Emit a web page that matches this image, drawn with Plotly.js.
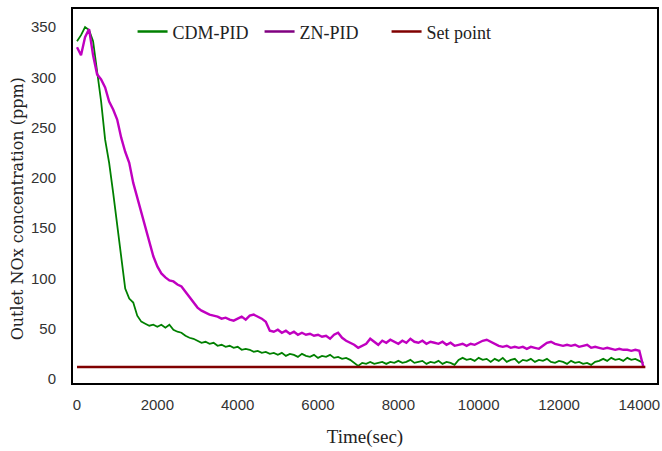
<!DOCTYPE html>
<html>
<head>
<meta charset="utf-8">
<script src="https://cdn.plot.ly/plotly-3.0.1.min.js"></script>
<style>html,body{margin:0;padding:0;background:#fff;}#chart{width:662px;height:451px;}</style>
</head>
<body>
<div id="chart"></div>
<script>
// Time grid (sec), sampled every 100 s
const timeStart = 0, timeStep = 100, timeCount = 142;
const time = [];
for (let i = 0; i < timeCount; i++) time.push(timeStart + i * timeStep);

// CDM-PID outlet NOx (ppm)
const cdmPid = [
  336,342,350,347,336,305,276,238,215,185,
  153,118,90,80,76,63,57,55,53,54,
  52,54,51,54,49,47,46,43,41,40,
  38,36,37,35,36,33,34,32,33,31,
  32,29,30,29,27,28,26,27,25,26,
  24,26,23,25,24,22,25,23,22,24,
  21,23,22,24,21,22,20,21,19,16,
  13,16,15,17,15,16,17,15,17,16,
  18,16,17,19,16,17,18,15,17,16,
  18,15,17,16,14,19,21,19,20,18,
  21,19,20,17,20,18,21,17,19,20,
  16,19,18,20,17,19,18,20,17,16,
  18,17,15,18,16,17,15,16,14,17,
  18,20,18,21,19,20,18,21,19,20,
  18,16
];

// ZN-PID outlet NOx (ppm)
const znPid = [
  330,322,340,348,322,303,298,290,276,268,
  258,240,226,215,195,180,166,150,136,122,
  112,105,101,98,97,94,92,87,82,76,
  71,68,66,64,63,62,60,61,59,58,
  60,62,59,63,64,62,60,57,48,47,
  49,46,48,45,47,44,46,44,45,43,
  44,42,43,40,44,46,41,38,36,34,
  31,33,35,40,37,34,38,36,39,37,
  35,38,36,40,37,36,38,35,37,36,
  35,37,34,36,33,34,35,33,35,34,
  36,38,39,37,35,33,32,33,31,32,
  31,32,30,32,31,30,33,36,37,35,
  34,33,34,33,34,32,33,34,31,32,
  31,30,31,30,29,30,29,29,28,29,
  28,12
];

// Set point (ppm)
const setTimes = [0, 14150];
const setValues = [12, 12];

const xTicks = [0, 2000, 4000, 6000, 8000, 10000, 12000, 14000];
const yTicks = [0, 50, 100, 150, 200, 250, 300, 350];

const names = ['CDM-PID', 'ZN-PID', 'Set point'];
const yTitle = 'Outlet NOx concentration (ppm)';
const xTitle = 'Time(sec)';

const traces = [
  {x: time, y: cdmPid, type: 'scatter', mode: 'lines', name: names[0], showlegend: false,
   line: {color: '#008000', width: 1.8}},
  {x: time, y: znPid, type: 'scatter', mode: 'lines', name: names[1], showlegend: false,
   line: {color: '#C000C0', width: 2.4}},
  {x: setTimes, y: setValues, type: 'scatter', mode: 'lines', name: names[2], showlegend: false,
   line: {color: '#800000', width: 2.5}},
  // legend entries
  {x: [null], y: [null], type: 'scatter', mode: 'lines', name: names[0], line: {color: '#008000', width: 2.5}},
  {x: [null], y: [null], type: 'scatter', mode: 'lines', name: names[1], line: {color: '#800080', width: 2.5}},
  {x: [null], y: [null], type: 'scatter', mode: 'lines', name: names[2], line: {color: '#800000', width: 2.5}}
];

const tickFont = {family: '"Liberation Sans", sans-serif', size: 15, color: '#333'};

const layout = {
  width: 662, height: 451,
  margin: {l: 73, r: 5, t: 9, b: 68},
  paper_bgcolor: '#fff', plot_bgcolor: '#fff',
  showlegend: true,
  legend: {
    orientation: 'h', x: 0.102, xanchor: 'left', y: 0.939, yanchor: 'middle',
    font: {family: '"Liberation Serif", serif', size: 18, color: '#222'},
    bgcolor: 'rgba(0,0,0,0)', entrywidth: 82, entrywidthmode: 'pixels', itemwidth: 30
  },
  xaxis: {
    range: [-100, 14440], tickvals: xTicks, ticktext: xTicks.map(String),
    showgrid: false, zeroline: false, showline: true, mirror: true, linecolor: '#000', linewidth: 2,
    ticks: '', ticklabelstandoff: 7, ticklabeloverflow: 'allow', tickfont: tickFont,
    title: {text: xTitle, font: {family: '"Liberation Serif", serif', size: 19, color: '#222'}, standoff: 18}
  },
  yaxis: {
    range: [-4, 368], tickvals: yTicks, ticktext: yTicks.map(String),
    showgrid: false, zeroline: false, showline: true, mirror: true, linecolor: '#000', linewidth: 2,
    ticks: '', ticklabelstandoff: 12, tickfont: tickFont
  },
  annotations: [{
    text: yTitle, xref: 'paper', yref: 'paper', x: -0.0959, y: 0.467,
    xanchor: 'center', yanchor: 'middle', textangle: -90, showarrow: false,
    font: {family: '"DejaVu Serif", serif', size: 16, color: '#222'}
  }]
};

Plotly.newPlot('chart', traces, layout, {displayModeBar: false, staticPlot: true});
</script>
</body>
</html>
